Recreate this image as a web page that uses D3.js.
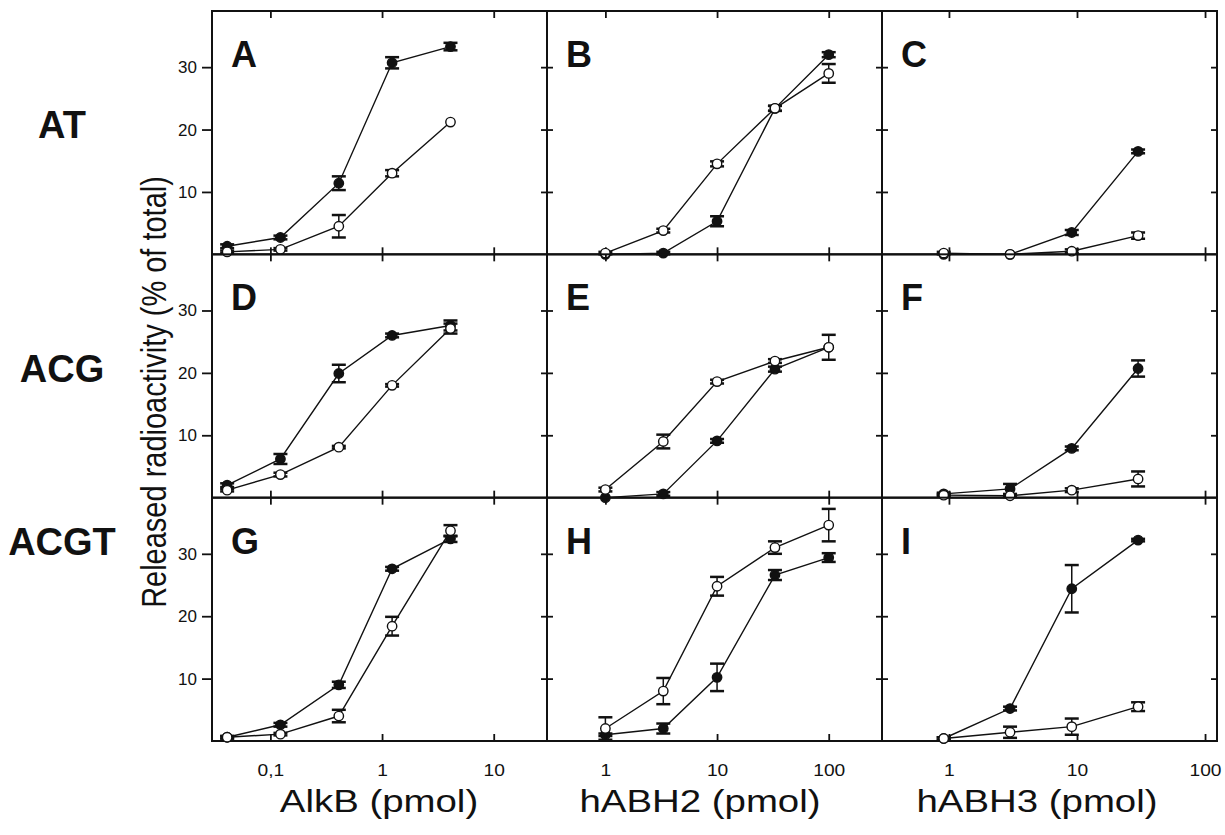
<!DOCTYPE html>
<html>
<head>
<meta charset="utf-8">
<script src="https://cdn.jsdelivr.net/npm/d3@7"></script>
<style>
body { margin: 0; background: #fff; }
text { font-family: "Liberation Sans", Arial, Helvetica, sans-serif; fill: #111; }
</style>
</head>
<body>
<script>
//---------data---------------------------------//
// enzyme amounts (pmol)
var alkbDose = [0.041, 0.123, 0.41, 1.23, 4.1];
var abh2Dose = [1, 3.3, 10, 33, 100];
var abh3Dose = [0.91, 3.0, 9.1, 30];

// released radioactivity (% of total), filled = closed circles, open = open circles
var A_filled = [1.3, 2.7, 11.4, 30.7, 33.3], A_filledErr = [0.3, 0.3, 1.1, 0.9, 0.6];
var A_open   = [0.4, 0.8, 4.5, 13.0, 21.2], A_openErr   = [0.2, 0.2, 1.8, 0.5, 0];
var B_filled = [0.0, 0.2, 5.3, 23.4, 32.0], B_filledErr = [0, 0.2, 0.8, 0.4, 0.4];
var B_open   = [0.2, 3.8, 14.5, 23.4, 29.0], B_openErr  = [0.2, 0.3, 0.4, 0.4, 1.5];
var C_filled = [0.0, 0.0, 3.5, 16.5], C_filledErr = [0, 0, 0.4, 0.3];
var C_open   = [0.2, 0.0, 0.5, 3.0], C_openErr    = [0.2, 0, 0.3, 0.5];
var D_filled = [2.0, 6.2, 19.9, 26.0, 27.6], D_filledErr = [0.3, 0.8, 1.4, 0.3, 0.8];
var D_open   = [1.2, 3.7, 8.1, 18.0, 27.1], D_openErr   = [0.2, 0.3, 0.2, 0.2, 0.8];
var E_filled = [0.0, 0.6, 9.1, 20.6, 24.1], E_filledErr = [0, 0.3, 0.3, 0.4, 0];
var E_open   = [1.3, 9.0, 18.6, 21.9, 24.1], E_openErr  = [0.3, 1.1, 0.3, 0.3, 2.0];
var F_filled = [0.6, 1.4, 7.9, 20.7], F_filledErr = [0.2, 0.8, 0.3, 1.3];
var F_open   = [0.4, 0.3, 1.2, 3.0], F_openErr    = [0.2, 0.2, 0.3, 1.2];
var G_filled = [0.6, 2.6, 9.0, 27.6, 32.4], G_filledErr = [0.2, 0.3, 0.5, 0.3, 0.5];
var G_open   = [0.6, 1.1, 4.0, 18.4, 33.7], G_openErr   = [0.2, 0.2, 1.0, 1.5, 0.9];
var H_filled = [1.0, 2.0, 10.2, 26.6, 29.4], H_filledErr = [0.2, 0.8, 2.2, 0.8, 0.7];
var H_open   = [2.0, 8.0, 24.8, 31.0, 34.6], H_openErr   = [1.8, 2.1, 1.5, 1.0, 2.6];
var I_filled = [0.4, 5.2, 24.4, 32.2], I_filledErr = [0.2, 0.3, 3.8, 0.2];
var I_open   = [0.4, 1.4, 2.3, 5.5], I_openErr    = [0.2, 0.9, 1.3, 0.7];

// axes
var rowLabels = ["AT", "ACG", "ACGT"];
var colTitles = ["AlkB (pmol)", "hABH2 (pmol)", "hABH3 (pmol)"];
var xDomains = [[0.03, 30], [0.3, 300], [0.3, 124]];
var xTickValues = [[0.1, 1, 10], [1, 10, 100], [1, 10, 100]];
var xTickLabels = [["0,1", "1", "10"], ["1", "10", "100"], ["1", "10", "100"]];
var yTickValues = [10, 20, 30];
var yTitle = "Released radioactivity (% of total)";

var doses = [alkbDose, abh2Dose, abh3Dose];
var panels = [
    {id:"A", row:0, col:0, filled:A_filled, filledErr:A_filledErr, open:A_open, openErr:A_openErr},
    {id:"B", row:0, col:1, filled:B_filled, filledErr:B_filledErr, open:B_open, openErr:B_openErr},
    {id:"C", row:0, col:2, filled:C_filled, filledErr:C_filledErr, open:C_open, openErr:C_openErr},
    {id:"D", row:1, col:0, filled:D_filled, filledErr:D_filledErr, open:D_open, openErr:D_openErr},
    {id:"E", row:1, col:1, filled:E_filled, filledErr:E_filledErr, open:E_open, openErr:E_openErr},
    {id:"F", row:1, col:2, filled:F_filled, filledErr:F_filledErr, open:F_open, openErr:F_openErr},
    {id:"G", row:2, col:0, filled:G_filled, filledErr:G_filledErr, open:G_open, openErr:G_openErr},
    {id:"H", row:2, col:1, filled:H_filled, filledErr:H_filledErr, open:H_open, openErr:H_openErr},
    {id:"I", row:2, col:2, filled:I_filled, filledErr:I_filledErr, open:I_open, openErr:I_openErr}
];

//---------setup plot-----------------------//
var W = 1225, H = 835;
var gridLeft = 212, gridTop = 11;
var panelW = 335, panelH = (741 - 11) / 3;

var svg = d3.select("body").append("svg")
    .attr("width", W)
    .attr("height", H);

var y = d3.scaleLinear().domain([0, 39]).range([panelH, 0]);

var line = d3.line()
    .x(function(d) { return d.px; })
    .y(function(d) { return y(d.v); });

panels.forEach(function(p) {
    var x = d3.scaleLog().domain(xDomains[p.col]).range([0, panelW]);
    var dose = doses[p.col];
    var g = svg.append("g")
        .attr("transform", "translate(" + (gridLeft + p.col * panelW) + "," + (gridTop + p.row * panelH) + ")");

    // ticks top / bottom (inward)
    g.append("g").attr("class", "ax")
        .call(d3.axisTop(x).tickValues(xTickValues[p.col]).tickSize(-7).tickFormat(""));
    var bottom = g.append("g").attr("class", "ax")
        .attr("transform", "translate(0," + panelH + ")")
        .call(d3.axisBottom(x).tickValues(xTickValues[p.col]).tickSize(-7).tickPadding(24)
            .tickFormat(function(d, i) { return p.row === 2 ? xTickLabels[p.col][i] : ""; }));
    bottom.selectAll("text")
        .attr("transform", "scale(1.2,1)")
        .style("font-size", "16px");

    // ticks left / right
    var left = g.append("g").attr("class", "ax")
        .call(d3.axisLeft(y).tickValues(yTickValues)
            .tickSize(p.col === 0 ? 10 : -6).tickPadding(p.col === 0 ? 5 : 0)
            .tickFormat(function(d) { return p.col === 0 ? d : ""; }));
    left.selectAll("text").style("font-size", "17px");
    g.append("g").attr("class", "ax")
        .attr("transform", "translate(" + panelW + ",0)")
        .call(d3.axisRight(y).tickValues(yTickValues).tickSize(-6).tickFormat(""));

    // frame
    g.append("rect")
        .attr("width", panelW).attr("height", panelH)
        .attr("fill", "none").attr("stroke", "#111").attr("stroke-width", 2);

    // panel letter
    g.append("text")
        .attr("x", 19).attr("y", 56)
        .style("font-size", "36px").style("font-weight", "bold")
        .text(p.id);

    // series: filled first, then open on top
    [["filled", "filledErr", "#111"], ["open", "openErr", "#fff"]].forEach(function(s) {
        var pts = p[s[0]].map(function(v, i) {
            return {px: x(dose[i]), v: v, e: p[s[1]][i]};
        });
        g.append("path")
            .attr("d", line(pts))
            .attr("fill", "none").attr("stroke", "#111").attr("stroke-width", 1.4);
        var eb = g.selectAll(null).data(pts.filter(function(d) { return d.e > 0; }))
            .enter().append("g");
        eb.append("line")
            .attr("x1", function(d) { return d.px; }).attr("x2", function(d) { return d.px; })
            .attr("y1", function(d) { return y(d.v - d.e); }).attr("y2", function(d) { return y(d.v + d.e); })
            .attr("stroke", "#111").attr("stroke-width", 1.5);
        [-1, 1].forEach(function(sgn) {
            eb.append("line")
                .attr("x1", function(d) { return d.px - 7; }).attr("x2", function(d) { return d.px + 7; })
                .attr("y1", function(d) { return y(d.v + sgn * d.e); }).attr("y2", function(d) { return y(d.v + sgn * d.e); })
                .attr("stroke", "#111").attr("stroke-width", 2.5);
        });
        g.selectAll(null).data(pts).enter().append("circle")
            .attr("cx", function(d) { return d.px; })
            .attr("cy", function(d) { return y(d.v); })
            .attr("r", 4.7)
            .attr("fill", s[2]).attr("stroke", "#111").attr("stroke-width", 1.4);
    });
});

svg.selectAll(".ax .domain").remove();
svg.selectAll(".ax line").attr("stroke", "#111").attr("stroke-width", 1.8);
svg.selectAll(".ax text").attr("fill", "#111").style("font-family", "'Liberation Sans', Arial, sans-serif");

// row labels
var rowBase = [138, 382, 555];
svg.selectAll(".rowlab").data(rowLabels).enter().append("text")
    .attr("class", "rowlab")
    .attr("x", 62).attr("y", function(d, i) { return rowBase[i]; })
    .attr("text-anchor", "middle")
    .style("font-size", "38px").style("font-weight", "bold")
    .text(function(d) { return d; });

// x-axis titles
var titleX = [379, 700, 1037];
svg.selectAll(".coltitle").data(colTitles).enter().append("text")
    .attr("class", "coltitle")
    .attr("transform", function(d, i) { return "translate(" + titleX[i] + ",812) scale(1.2,1)"; })
    .attr("text-anchor", "middle")
    .style("font-size", "32px")
    .text(function(d) { return d; });

// y-axis title
svg.append("text")
    .attr("transform", "translate(166,392) scale(1.2,1) rotate(-90)")
    .attr("text-anchor", "middle")
    .style("font-size", "29px")
    .text(yTitle);
</script>
</body>
</html>
